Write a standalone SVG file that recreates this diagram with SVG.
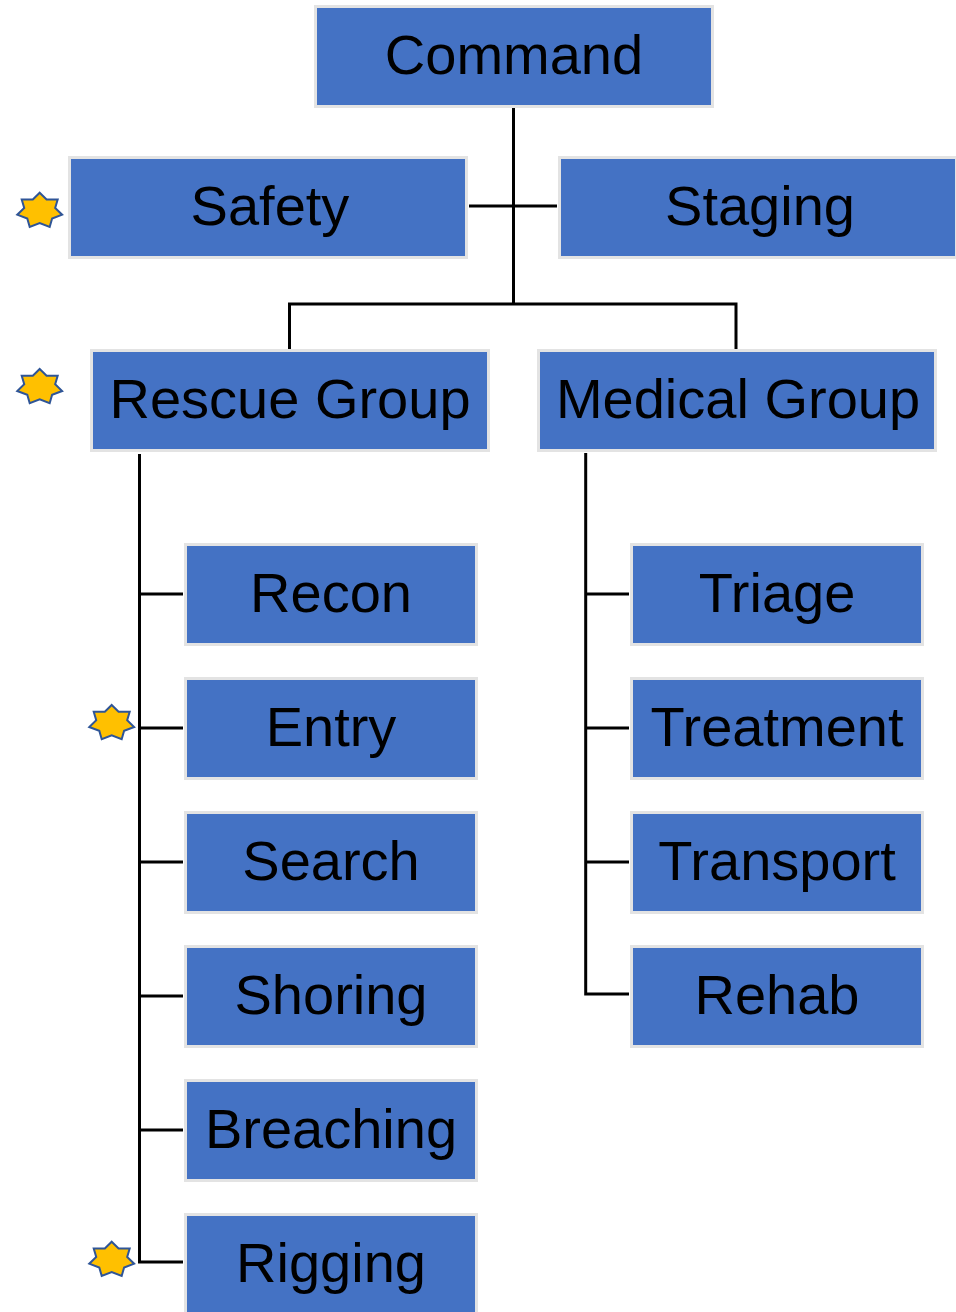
<svg xmlns="http://www.w3.org/2000/svg" width="956" height="1312" viewBox="0 0 956 1312">
<style>
.box{fill:#4472C4;stroke:#E3E3E3;stroke-width:3}
.lbl{font-family:"Liberation Sans",Arial,sans-serif;font-size:56px;fill:#000;text-anchor:middle}
.ln{stroke:#000;stroke-width:3;fill:none}
.star{fill:#FFC000;stroke:#2F5597;stroke-width:2;stroke-linejoin:miter}
</style>
<defs>
<path id="star7" d="M0,-18 L6.89,-11.19 L17.98,-11.22 L15.47,-2.76 L22.42,4.01 L12.41,7.74 L9.98,16.22 L0,12.42 L-9.98,16.22 L-12.41,7.74 L-22.42,4.01 L-15.47,-2.76 L-17.98,-11.22 L-6.89,-11.19 Z"/>
</defs>
<rect width="956" height="1312" fill="#fff"/>
<g id="connectors">
<path class="ln" d="M513.5,108 V304"/>
<path class="ln" d="M469,206 H557"/>
<path class="ln" d="M289.5,304 H736 M289.5,302.5 V349 M736,302.5 V349"/>
<path class="ln" d="M139.5,454 V1262 H183"/>
<path class="ln" d="M139.5,594 H183 M139.5,728 H183 M139.5,862 H183 M139.5,996 H183 M139.5,1130 H183"/>
<path class="ln" d="M585.7,453 V994 H629"/>
<path class="ln" d="M585.7,594 H629 M585.7,728 H629 M585.7,862 H629"/>
</g>
<g id="command"><rect class="box" x="315.5" y="6.5" width="397" height="100"/><text class="lbl" x="514" y="74">Command</text></g>
<g id="safety"><rect class="box" x="69.5" y="157.5" width="397" height="100"/><text class="lbl" x="270" y="225">Safety</text></g>
<g id="staging"><rect class="box" x="559.5" y="157.5" width="397" height="100"/><text class="lbl" x="760" y="225">Staging</text></g>
<g id="rescue-group"><rect class="box" x="91.5" y="350.5" width="397" height="100"/><text class="lbl" x="290" y="418">Rescue Group</text></g>
<g id="medical-group"><rect class="box" x="538.5" y="350.5" width="397" height="100"/><text class="lbl" x="738" y="418">Medical Group</text></g>
<g id="recon"><rect class="box" x="185.5" y="544.5" width="291" height="100"/><text class="lbl" x="331" y="612">Recon</text></g>
<g id="entry"><rect class="box" x="185.5" y="678.5" width="291" height="100"/><text class="lbl" x="331" y="746">Entry</text></g>
<g id="search"><rect class="box" x="185.5" y="812.5" width="291" height="100"/><text class="lbl" x="331" y="880">Search</text></g>
<g id="shoring"><rect class="box" x="185.5" y="946.5" width="291" height="100"/><text class="lbl" x="331" y="1014">Shoring</text></g>
<g id="breaching"><rect class="box" x="185.5" y="1080.5" width="291" height="100"/><text class="lbl" x="331" y="1148">Breaching</text></g>
<g id="rigging"><rect class="box" x="185.5" y="1214.5" width="291" height="100"/><text class="lbl" x="331" y="1282">Rigging</text></g>
<g id="triage"><rect class="box" x="631.5" y="544.5" width="291" height="100"/><text class="lbl" x="777" y="612">Triage</text></g>
<g id="treatment"><rect class="box" x="631.5" y="678.5" width="291" height="100"/><text class="lbl" x="777" y="746">Treatment</text></g>
<g id="transport"><rect class="box" x="631.5" y="812.5" width="291" height="100"/><text class="lbl" x="777" y="880">Transport</text></g>
<g id="rehab"><rect class="box" x="631.5" y="946.5" width="291" height="100"/><text class="lbl" x="777" y="1014">Rehab</text></g>
<g id="star-safety"><use href="#star7" class="star" x="39.7" y="210.7"/></g>
<g id="star-rescue"><use href="#star7" class="star" x="39.7" y="387"/></g>
<g id="star-entry"><use href="#star7" class="star" x="111.7" y="723"/></g>
<g id="star-rigging"><use href="#star7" class="star" x="111.7" y="1259.7"/></g>
</svg>
